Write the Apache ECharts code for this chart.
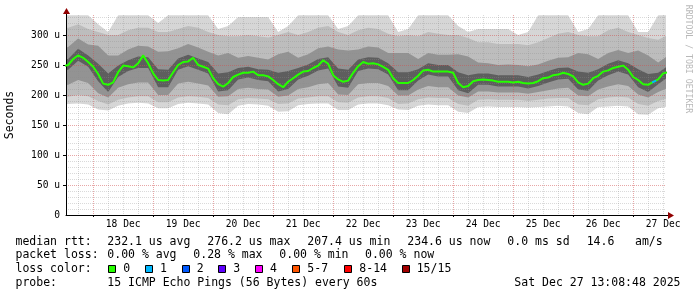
<!DOCTYPE html>
<html><head><meta charset="utf-8">
<script src="https://cdn.jsdelivr.net/npm/echarts@6/dist/echarts.min.js"></script>
<style>html,body{margin:0;padding:0;background:#fff}#c{width:697px;height:297px}</style>
</head><body><div id="c"></div>
<script>
// Hours counted from 17 Dec 2025 00:00
const startHour = 13 + 8 / 60;
const endHour = startHour + 240;

// x-axis tick labels (noon of each day)
const dayLabels = ['18 Dec','19 Dec','20 Dec','21 Dec','22 Dec','23 Dec','24 Dec','25 Dec','26 Dec','27 Dec'];
const dayLabelHours = [36, 60, 84, 108, 132, 156, 180, 204, 228, 252];
const midnightHours = [24, 48, 72, 96, 120, 144, 168, 192, 216, 240];
const sixHourHours = [18, 30, 36, 42, 54, 60, 66, 78, 84, 90, 102, 108, 114, 126, 132, 138, 150, 156, 162, 174, 180, 186, 198, 204, 210, 222, 228, 234, 246, 252];

// y-axis ticks (microseconds)
const yMajorTicks = [50, 100, 150, 200, 250, 300];
const yLabelTicks = [0, 50, 100, 150, 200, 250, 300];
const yMinorTicks = [10, 20, 30, 40, 60, 70, 80, 90, 110, 120, 130, 140, 160, 170, 180, 190, 210, 220, 230, 240, 260, 270, 280, 290, 310, 320, 330];

// median RTT, every 2 hours starting at hour 12
const medianValues = [
 248,250,260,266,262,255,247,235,219,217,221,238,249,248,246,253,266,253,236,225,
 224,225,238,250,255,256,262,250,247,244,228,218,214,220,230,234,237,237,239,233,
 233,231,225,218,213,222,228,234,239,240,245,249,258,252,233,226,222,224,237,248,
 255,252,253,251,247,242,228,220,220,220,225,232,241,242,239,239,239,239,237,220,
 213,215,223,225,226,225,224,222,222,222,221,222,220,219,220,223,228,229,233,234,
 237,235,231,221,217,219,228,232,239,241,245,247,249,242,230,225,218,217,222,226,
 236,238];
// short loss=1 median piece
const loss1Hours = [247.6, 249.2];
const loss1Values = [221, 224];

// smoke envelopes, every 4 hours starting at hour 10
const smokeMax = [333,333,333,333,318,305,333,333,333,333, 320,333,333,333,333,333,310,315,330,330, 330,330,305,315,333,333,333,333,310,315, 333,333,333,333,305,310,333,333,333,333, 315,305,310,310,310,310,300,305,333,333, 333,333,305,310,333,333,333,333,305,305, 333,333];
const smokeHi2 = [312,312,318,310,305,300,300,308,312,312, 305,305,310,315,312,305,300,298,298,300, 298,296,300,305,300,305,312,315,305,300, 308,312,310,302,298,300,298,305,302,300, 300,295,288,288,285,285,285,283,288,295, 302,305,300,298,298,308,312,305,300,295, 292,300];
const smokeHi4 = [276,280,294,284,282,266,266,276,282,281, 272,273,278,285,279,272,266,270,262,265, 262,259,268,272,262,268,278,281,276,274, 276,281,279,270,270,270,260,270,267,267, 268,264,254,253,250,251,250,248,251,257, 262,263,270,268,260,270,275,270,274,266, 254,266];
const smokeHi6 = [258,260,277,266,252,236,249,258,264,263, 243,242,261,267,261,255,236,238,245,247, 243,242,237,240,245,251,260,263,244,242, 259,263,262,253,238,238,243,253,250,250, 238,233,236,236,233,233,233,230,234,240, 245,246,239,237,243,252,258,253,243,235, 237,249];
const smokeLo6 = [240,242,257,247,223,205,230,240,245,245, 213,213,242,248,242,236,206,208,226,229, 225,223,206,210,226,232,241,244,214,212, 240,244,243,234,208,208,224,234,231,231, 208,203,217,217,214,214,214,211,215,221, 226,227,209,207,224,233,239,234,213,205, 218,230];
const smokeLo4 = [216,217,225,220,203,196,212,218,221,221, 200,200,219,222,219,216,197,198,210,212, 210,209,197,199,210,213,218,220,201,200, 218,220,220,215,199,199,209,215,213,213, 199,196,206,206,204,204,204,202,205,208, 211,212,199,198,209,214,218,215,201,196, 205,212];
const smokeLo2 = [197,197,200,198,190,184,192,196,198,198, 188,188,196,198,197,195,184,183,193,195, 194,193,185,186,194,196,198,198,188,187, 196,198,198,195,185,186,193,196,195,195, 185,182,192,193,192,192,192,190,192,194, 195,195,184,183,193,196,197,196,185,182, 190,195];
const smokeMin = [184,185,186,184,176,174,182,186,187,186, 178,178,185,187,186,184,170,168,182,185, 184,182,172,173,183,185,186,186,175,175, 184,186,186,183,176,175,182,184,183,183, 172,170,180,181,180,180,180,179,180,181, 182,181,170,168,180,181,182,181,168,167, 178,181];

// legend texts
const rttStats = ['232.1 us avg','276.2 us max','207.4 us min','234.6 us now','0.0 ms sd','14.6','am/s'];
const lossStats = ['0.00 % avg','0.28 % max','0.00 % min','0.00 % now'];
const lossLabels = ['0','1','2','3','4','5-7','8-14','15/15'];
const lossColors = ['#26ff00','#00b8ff','#0059ff','#5e00ff','#ff00ff','#ff5500','#ff0000','#a10000'];
const probeText = '15 ICMP Echo Pings (56 Bytes) every 60s';
const dateText = 'Sat Dec 27 13:08:48 2025';

// ---------- layout ----------
const FONT = '"DejaVu Sans Mono", monospace';
const rttX = [107.3, 207.3, 307.3, 407.3, 507.3, 586.7, 635];
const lossX = [107.3, 193.3, 279.3, 365];
const lossLabelX = [123.3, 160, 196.7, 233.3, 270, 307.3, 359.3, 416.7];
const rowY = [241.7, 255.5, 269.3, 283.2];

const medianHours = medianValues.map((_, i) => 12 + 2 * i);
const smokeHours = smokeMax.map((_, i) => 10 + 4 * i);

function band(vals, color) {
  return {
    type: 'line', data: vals.map((v, i) => [smokeHours[i], v]),
    xAxisIndex: 0, yAxisIndex: 0, symbol: 'none', silent: true, animation: false,
    lineStyle: { width: 0, opacity: 0 },
    areaStyle: { color: color, opacity: 1, origin: 'start' },
    z: 2
  };
}

function txt(x, y, s, extra) {
  return { type: 'text', x: x, y: y, silent: true,
    style: Object.assign({ text: s, font: '11.5px ' + FONT, fill: '#000', align: 'left', verticalAlign: 'middle' }, extra || {}) };
}

const graphics = [];
graphics.push(txt(15.5, rowY[0], 'median rtt:'));
rttStats.forEach((s, i) => graphics.push(txt(rttX[i], rowY[0], s)));
graphics.push(txt(15.5, rowY[1], 'packet loss:'));
lossStats.forEach((s, i) => graphics.push(txt(lossX[i], rowY[1], s)));
graphics.push(txt(15.5, rowY[2], 'loss color:'));
lossLabels.forEach((s, i) => {
  graphics.push({ type: 'rect', silent: true,
    shape: { x: Math.round(lossLabelX[i] - 15) + 0.5, y: 265.5, width: 7, height: 7 },
    style: { fill: lossColors[i], stroke: '#000', lineWidth: 1 } });
  graphics.push(txt(lossLabelX[i], rowY[2], s));
});
graphics.push(txt(15.5, rowY[3], 'probe:'));
graphics.push(txt(107.3, rowY[3], probeText));
graphics.push(txt(680.5, rowY[3], dateText, { align: 'right' }));
// watermark
graphics.push({ type: 'text', x: 688.5, y: 59, rotation: -Math.PI / 2, silent: true,
  style: { text: 'RRDTOOL / TOBI OETIKER', font: '8.2px ' + FONT, fill: '#b8b8b8', align: 'center', verticalAlign: 'middle' } });
// axis arrows
graphics.push({ type: 'line', silent: true, shape: { x1: 666, y1: 215.5, x2: 670, y2: 215.5 }, style: { stroke: '#000', lineWidth: 1 } });
graphics.push({ type: 'polygon', silent: true, shape: { points: [[668, 212], [674, 215.5], [668, 219]] }, style: { fill: '#910000' } });
graphics.push({ type: 'line', silent: true, shape: { x1: 66.5, y1: 15, x2: 66.5, y2: 11 }, style: { stroke: '#000', lineWidth: 1 } });
graphics.push({ type: 'polygon', silent: true, shape: { points: [[63, 14], [66.5, 8], [70, 14]] }, style: { fill: '#910000' } });

const minorColor = 'rgba(140,140,140,0.32)';
const majorColor = 'rgba(210,80,80,0.5)';
const labelStyle = { fontFamily: FONT, fontSize: 9.6, color: '#000' };

const option = {
  animation: false,
  backgroundColor: '#ffffff',
  grid: { left: 66, top: 15, width: 600, height: 200, show: false, containLabel: false, outerBoundsMode: 'none' },
  xAxis: [
    { type: 'value', min: startHour, max: endHour, position: 'bottom', z: 10,
      axisLine: { show: false, onZero: false },
      axisTick: { show: false, customValues: sixHourHours },
      splitLine: { show: true, lineStyle: { color: minorColor, type: [1, 1], width: 1 } },
      axisLabel: Object.assign({ customValues: dayLabelHours, margin: 4,
        formatter: function (v) {
          let best = 0; for (let i = 0; i < dayLabelHours.length; i++) if (Math.abs(dayLabelHours[i] - v) < Math.abs(dayLabelHours[best] - v)) best = i;
          return dayLabels[best];
        } }, labelStyle) },
    { type: 'value', min: startHour, max: endHour, position: 'bottom', z: 11,
      axisLine: { show: true, onZero: false, lineStyle: { color: '#000', width: 1 } },
      axisTick: { show: true, customValues: midnightHours, length: 2, lineStyle: { color: '#000' } },
      splitLine: { show: true, lineStyle: { color: majorColor, type: [1, 1], width: 1 } },
      axisLabel: { show: false } }
  ],
  yAxis: [
    { type: 'value', min: 0, max: 1000 / 3, position: 'left', z: 10,
      axisLine: { show: false, onZero: false },
      axisTick: { show: false, customValues: yMinorTicks },
      axisLabel: { show: false },
      splitLine: { show: true, lineStyle: { color: minorColor, type: [1, 1], width: 1 } } },
    { type: 'value', min: 0, max: 1000 / 3, position: 'left', z: 11,
      name: 'Seconds', nameLocation: 'middle', nameRotate: 90, nameGap: 50,
      nameTextStyle: { fontFamily: FONT, fontSize: 11.5, color: '#000' },
      axisLine: { show: true, onZero: false, lineStyle: { color: '#000', width: 1 } },
      axisTick: { show: true, customValues: yMajorTicks, length: 3, lineStyle: { color: '#000' } },
      axisLabel: Object.assign({ customValues: yLabelTicks, margin: 6,
        formatter: function (v) { return v === 0 ? '0' : v + ' u'; } }, labelStyle),
      splitLine: { show: true, lineStyle: { color: majorColor, type: [1, 1], width: 1 } } }
  ],
  series: [
    band(smokeMax, '#d6d6d6'),
    band(smokeHi2, '#bdbdbd'),
    band(smokeHi4, '#939393'),
    band(smokeHi6, '#5e5e5e'),
    band(smokeLo6, '#939393'),
    band(smokeLo4, '#bdbdbd'),
    band(smokeLo2, '#d6d6d6'),
    band(smokeMin, '#ffffff'),
    { type: 'line', data: medianValues.map((v, i) => [medianHours[i], v]), xAxisIndex: 0, yAxisIndex: 0,
      symbol: 'none', silent: true, z: 20, lineStyle: { color: '#26ff00', width: 2 } },
    { type: 'line', data: loss1Values.map((v, i) => [loss1Hours[i], v]), xAxisIndex: 0, yAxisIndex: 0,
      symbol: 'none', silent: true, z: 21, lineStyle: { color: '#00b8ff', width: 2 } }
  ],
  graphic: graphics
};

const chart = echarts.init(document.getElementById('c'), null, { renderer: 'canvas' });
chart.setOption(option);
</script>
</body></html>
